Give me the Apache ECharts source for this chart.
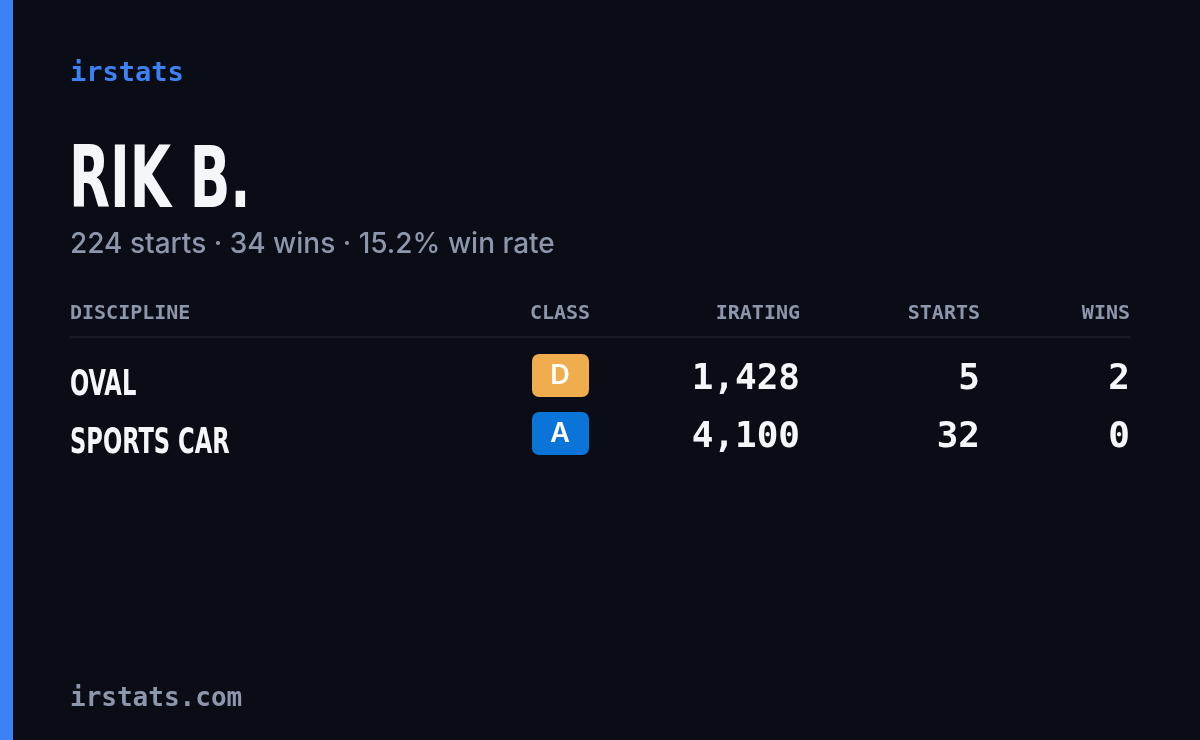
<!DOCTYPE html>
<html><head><meta charset="utf-8">
<script src="https://cdn.jsdelivr.net/npm/echarts@6/dist/echarts.min.js"></script>
<style>html,body{margin:0;background:#0a0d15}#c{width:1200px;height:740px}</style>
</head><body><div id="c"></div>
<script>
var brand = 'irstats';
var driver = 'RIK B.';
var summary = '224 starts · 34 wins · 15.2% win rate';
var columns = ['DISCIPLINE', 'CLASS', 'IRATING', 'STARTS', 'WINS'];
var disciplines = ['OVAL', 'SPORTS CAR'];
var classes = ['D', 'A'];
var classColors = ['#f0ad4e', '#0b74d9'];
var iratings = ['1,428', '4,100'];
var starts = ['5', '32'];
var wins = ['2', '0'];
var footer = 'irstats.com';

var mono = '"DejaVu Sans Mono", monospace';
var cond = '"DejaVu Sans Condensed", "DejaVu Sans", sans-serif';
var sans = 'Inter, "Noto Sans", sans-serif';
var colX = [70, 560, 800, 980, 1130];
var colAlign = ['left', 'center', 'right', 'right', 'right'];

var g = [
  {type: 'rect', shape: {x: 0, y: 0, width: 13, height: 740}, style: {fill: '#3b82f6'}},
  {type: 'text', x: 70, y: 74, style: {text: brand, font: 'bold 27px ' + mono, fill: '#3b82f6', verticalAlign: 'middle'}},
  {type: 'text', x: 69, y: 185, scaleX: 0.74, scaleY: 1.06, style: {text: driver, font: 'bold 80px ' + cond, fill: '#f5f6fa', verticalAlign: 'middle'}},
  {type: 'text', x: 70, y: 245, style: {text: summary, font: '500 28px ' + sans, fill: '#8c97ab', verticalAlign: 'middle'}},
  {type: 'rect', shape: {x: 70, y: 336, width: 1060, height: 2}, style: {fill: '#181c28'}},
  {type: 'text', x: 70, y: 699, style: {text: footer, font: 'bold 26px ' + mono, fill: '#8c97ab', verticalAlign: 'middle'}}
];
columns.forEach(function (c, i) {
  g.push({type: 'text', x: colX[i], y: 314, style: {text: c, font: 'bold 20px ' + mono, fill: '#8c97ab', align: colAlign[i], verticalAlign: 'middle'}});
});
disciplines.forEach(function (d, r) {
  var y = 380 + r * 58;
  g.push({type: 'text', x: 70, y: y + 6, scaleX: 0.74, scaleY: 1.04, style: {text: d, font: 'bold 34px ' + cond, fill: '#f5f6fa', verticalAlign: 'middle'}});
  g.push({type: 'rect', shape: {x: 532, y: y - 26, width: 57, height: 43, r: 7}, style: {fill: classColors[r]}});
  g.push({type: 'text', x: 560, y: y - 4, style: {text: classes[r], font: '600 27px ' + sans, fill: '#ffffff', align: 'center', verticalAlign: 'middle'}});
  [iratings[r], starts[r], wins[r]].forEach(function (v, k) {
    g.push({type: 'text', x: colX[k + 2], y: y, style: {text: v, font: 'bold 36px ' + mono, fill: '#f5f6fa', align: 'right', verticalAlign: 'middle'}});
  });
});

var chart = echarts.init(document.getElementById('c'));
chart.setOption({backgroundColor: '#0a0d15', graphic: g});
</script></body></html>
